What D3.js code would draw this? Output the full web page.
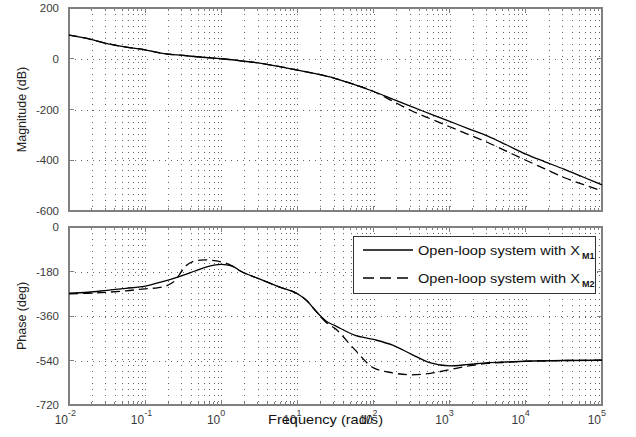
<!DOCTYPE html>
<html><head><meta charset="utf-8">
<script src="https://cdn.jsdelivr.net/npm/d3@7/dist/d3.min.js"></script>
<style>
html,body{margin:0;padding:0;background:#fff;}
svg{display:block;font-family:"Liberation Sans",Arial,sans-serif;}
</style></head>
<body><svg id="chart" width="636" height="437"></svg>
<script>
// ---- data ----
const magFreq = [0.01,0.0178,0.0316,0.0562,0.1,0.178,0.316,0.562,1,1.78,3.16,5.62,10,17.8,31.6,56.2,100,178,316,562,1000,1780,3160,5620,1e4,1.78e4,3.16e4,5.62e4,1e5];
const magM1 = [93,79,60,46,35,20,13,6,0,-8,-17,-30,-45,-60,-78,-102,-129,-159,-189,-218,-247,-276,-305,-340,-376,-406,-435,-466,-497];
const magM2 = [93,79,60,46,35,20,13,6,0,-8,-17,-30,-45,-60,-78,-102,-129,-167,-205,-237,-268,-299,-330,-365,-400,-434,-468,-495,-521];

const phFreqM1 = [0.01,0.0178,0.0316,0.0562,0.1,0.15,0.2,0.3,0.45,0.6,1,1.4,1.78,3.16,5.62,10,13.3,17.8,23.7,31.6,56.2,100,178,316,562,1000,1780,3160,5620,1e4,3.16e4,1e5];
const phM1 = [-268,-264,-256,-248,-239,-225,-215,-198,-178,-164,-151,-158,-178,-210,-241,-270,-298,-343,-380,-400,-437,-455,-478,-515,-550,-562,-556,-549,-546,-543,-540,-539];
const phFreqM2 = [0.01,0.0178,0.0316,0.0562,0.1,0.15,0.2,0.25,0.3,0.35,0.45,0.6,1,1.4,1.78,3.16,5.62,10,13.3,17.8,23.7,31.6,56.2,100,178,316,562,1000,1780,3160,5620,1e4,3.16e4,1e5];
const phM2 = [-270,-268,-264,-258,-250,-245,-235,-215,-180,-155,-137,-133,-141,-158,-178,-210,-241,-270,-298,-343,-385,-412,-495,-570,-590,-598,-592,-577,-562,-552,-547,-543,-540,-539];

const decadeExps = [-2,-1,0,1,2,3,4,5];
const magTicks = [200,0,-200,-400,-600];
const phTicks = [0,-180,-360,-540,-720];
const legendLabels = ["Open-loop system with X", "Open-loop system with X"];
const legendSubs = ["M1","M2"];
const xLabel = "Frequency  (rad/s)";

// ---- layout ----
const svg = d3.select("#chart");
const L = 69, R = 602;
const magTop = 8, magBot = 211, phTop = 227, phBot = 405;
const x = d3.scaleLog().domain([1e-2,1e5]).range([L,R]);
const yMag = d3.scaleLinear().domain([-600,200]).range([magBot,magTop]);
const yPh = d3.scaleLinear().domain([-720,0]).range([phBot,phTop]);

const frameCol = "#808080", gridCol = "#666", textCol = "#3a3a3a";

const gridVals = [];
for (let e=-2;e<5;e++) for (let m=1;m<10;m++) gridVals.push(m*Math.pow(10,e));
gridVals.push(1e5);
const majorVals = decadeExps.map(e=>Math.pow(10,e));

function panel(y, top, bot, ticks) {
  const g = svg.append("g");
  g.selectAll("line.vg").data(gridVals.filter(v=>v>1e-2 && v<1e5)).enter().append("line")
    .attr("x1",d=>Math.round(x(d))+0.5).attr("x2",d=>Math.round(x(d))+0.5).attr("y1",top).attr("y2",bot)
    .attr("stroke",gridCol).attr("stroke-width",1).attr("stroke-dasharray","1,5");
  g.selectAll("line.hg").data(ticks.filter(t=>y(t)>top+1 && y(t)<bot-1)).enter().append("line")
    .attr("x1",L).attr("x2",R).attr("y1",d=>Math.round(y(d))+0.5).attr("y2",d=>Math.round(y(d))+0.5)
    .attr("stroke",gridCol).attr("stroke-width",1).attr("stroke-dasharray","1,5");
  const minorV = gridVals.filter(v=>!majorVals.some(m=>Math.abs(m-v)/m<1e-9));
  [[bot,-1],[top,1]].forEach(([yy,dir])=>{
    g.selectAll(null).data(minorV).enter().append("line")
      .attr("x1",d=>x(d)).attr("x2",d=>x(d)).attr("y1",yy).attr("y2",yy+dir*3)
      .attr("stroke",frameCol).attr("shape-rendering","crispEdges");
    g.selectAll(null).data(majorVals).enter().append("line")
      .attr("x1",d=>x(d)).attr("x2",d=>x(d)).attr("y1",yy).attr("y2",yy+dir*5)
      .attr("stroke",frameCol).attr("shape-rendering","crispEdges");
  });
  [[L,1],[R,-1]].forEach(([xx,dir])=>{
    g.selectAll(null).data(ticks).enter().append("line")
      .attr("x1",xx).attr("x2",xx+dir*5).attr("y1",d=>y(d)).attr("y2",d=>y(d))
      .attr("stroke",frameCol).attr("shape-rendering","crispEdges");
  });
  const ax = svg.append("g").attr("transform",`translate(${L},0)`)
    .call(d3.axisLeft(y).tickValues(ticks).tickSize(0).tickPadding(10).tickFormat(d=>String(d)));
  ax.select(".domain").remove();
  ax.selectAll("text").attr("fill",textCol).style("font-size","11.5px")
    .style("font-family","'Liberation Sans',Arial,sans-serif");
  g.append("rect").attr("x",L).attr("y",top).attr("width",R-L).attr("height",bot-top)
    .attr("fill","none").attr("stroke",frameCol).attr("stroke-width",1.2)
    .attr("shape-rendering","crispEdges");
  return g;
}

panel(yMag, magTop, magBot, magTicks);
panel(yPh, phTop, phBot, phTicks);

function drawLine(freqs, vals, y, dashed) {
  const line = d3.line().x((d,i)=>x(freqs[i])).y(d=>y(d)).curve(d3.curveMonotoneX);
  svg.append("path").datum(vals).attr("d",line).attr("fill","none")
    .attr("stroke","#000").attr("stroke-width",1.3)
    .attr("stroke-dasharray",dashed?"9,5":null);
}
drawLine(magFreq, magM2, yMag, true);
drawLine(magFreq, magM1, yMag, false);
drawLine(phFreqM2, phM2, yPh, true);
drawLine(phFreqM1, phM1, yPh, false);

// x tick labels (10^n)
const xl = svg.append("g");
decadeExps.forEach(e=>{
  xl.append("text").attr("x",x(Math.pow(10,e))-1).attr("y",424)
    .attr("text-anchor","end").attr("fill",textCol).style("font-size","12px").text("10");
  xl.append("text").attr("x",x(Math.pow(10,e))-1).attr("y",416)
    .attr("fill",textCol).style("font-size","9px").text(String(e));
});
svg.append("text").attr("x",268).attr("y",424).attr("textLength",115).attr("lengthAdjust","spacingAndGlyphs")
  .attr("fill","#111").style("font-size","13px").text(xLabel);

// y labels
svg.append("text").attr("transform",`translate(26,${(magTop+magBot)/2}) rotate(-90)`)
  .attr("text-anchor","middle").attr("fill","#222").style("font-size","12.5px").text("Magnitude (dB)");
svg.append("text").attr("transform",`translate(26,${(phTop+phBot)/2}) rotate(-90)`)
  .attr("text-anchor","middle").attr("fill","#222").style("font-size","12.5px").text("Phase (deg)");

// legend
const lg = svg.append("g");
lg.append("rect").attr("x",353).attr("y",236).attr("width",242).attr("height",57)
  .attr("fill","#fff").attr("stroke","#333").attr("stroke-width",1)
  .attr("shape-rendering","crispEdges");
[0,1].forEach(i=>{
  const yy = 250 + i*28;
  lg.append("line").attr("x1",363).attr("x2",413).attr("y1",yy).attr("y2",yy)
    .attr("stroke","#000").attr("stroke-width",1.3).attr("stroke-dasharray",i?"11,6":null);
  lg.append("text").attr("x",418).attr("y",yy+5).attr("textLength",162).attr("lengthAdjust","spacingAndGlyphs")
    .attr("fill","#111").style("font-size","13px").text(legendLabels[i]);
  lg.append("text").attr("x",582).attr("y",yy+9).attr("fill","#111")
    .style("font-size","9px").style("font-weight","bold").text(legendSubs[i]);
});
</script></body></html>
